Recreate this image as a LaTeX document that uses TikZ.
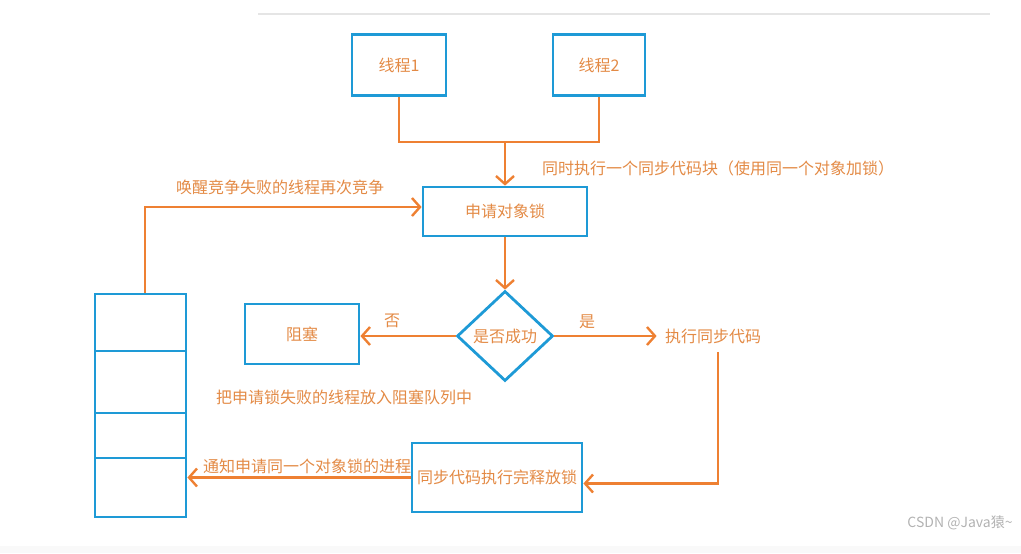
\documentclass[tikz,border=0pt]{standalone}
\usepackage{fontspec}
\setmainfont{Noto Sans CJK SC}
\usepackage{xcolor}
\usepackage{tikz}
\usetikzlibrary{arrows.meta,shapes.geometric}

\definecolor{boxblue}{HTML}{1E9AD6}
\definecolor{lineorange}{HTML}{EE8032}
\definecolor{textorange}{HTML}{E38A45}

\begin{document}
\begin{tikzpicture}[
    x=0.5pt,
    y=-0.5pt,
    >={Straight Barb[length=4pt,width=9pt]},
    box/.style={draw=boxblue, line width=1.4pt, inner sep=0pt, text=textorange, font=\fontsize{8pt}{9pt}\selectfont},
    flow/.style={draw=lineorange, line width=1.2pt},
    lbl/.style={text=textorange, font=\fontsize{8pt}{9pt}\selectfont, inner sep=1pt}
]
\useasboundingbox (0,0) rectangle (1021,553);
\draw[gray!20, line width=1pt] (258,14) -- (990,14);
\fill[gray!5] (0,546) rectangle (1021,553);

\node[box, minimum width=47pt, minimum height=30.5pt] (thr1) at (399,65) {线程1};
\node[box, minimum width=46pt, minimum height=30.5pt] (thr2) at (599,65) {线程2};
\node[box, minimum width=82pt, minimum height=24.5pt] (lock) at (505,211.5) {申请对象锁};
\node[box, diamond, minimum width=48pt, minimum height=45pt] (dia) at (505,336) {是否成功};
\node[box, minimum width=57pt, minimum height=30pt] (blk) at (302,334) {阻塞};
\node[lbl, inner sep=4pt] (exec) at (713,336) {执行同步代码};
\node[box, minimum width=85pt, minimum height=34.5pt] (rel) at (497,477.5) {同步代码执行完释放锁};
\foreach \name/\cy/\h in {q1/322.5/28.5, q2/382/31, q3/435.5/22.5, q4/487.5/29.5}{
  \node[box, minimum width=45.5pt, minimum height=\h pt] (\name) at (140.5,\cy) {};
}

\coordinate (join) at (505,142);
\draw[flow] (thr1.south) |- (join) -| (thr2.south);
\draw[flow,->] (join) -- (lock.north);
\draw[flow,->] (lock.south) -- (dia.north);
\draw[flow,->] (dia.west) -- (dia.west -| blk.east);
\draw[flow,->] (dia.east) -- (exec.west);
\draw[flow,->] ([xshift=2.5pt]exec.south) |- ([yshift=-3pt]rel.east);
\draw[flow,->] (rel.west) -- (rel.west -| q4.east);
\draw[flow,->] ([xshift=2.25pt]q1.north) |- ([yshift=2.25pt]lock.west);

\node[lbl] (sync) at (718,168) {同时执行一个同步代码块（使用同一个对象加锁）};
\node[lbl] (wake) at (280,187) {唤醒竞争失败的线程再次竞争};
\node[lbl] (no) at (392,321) {否};
\node[lbl] (yes) at (587,322) {是};
\node[lbl] (fail) at (344,397) {把申请锁失败的线程放入阻塞队列中};
\node[lbl] (notify) at (307,466) {通知申请同一个对象锁的进程};
\node[text=gray!60, font=\fontsize{7pt}{8pt}\selectfont] (mark) at (960,523) {CSDN @Java猿\textasciitilde};
\end{tikzpicture}
\end{document}
